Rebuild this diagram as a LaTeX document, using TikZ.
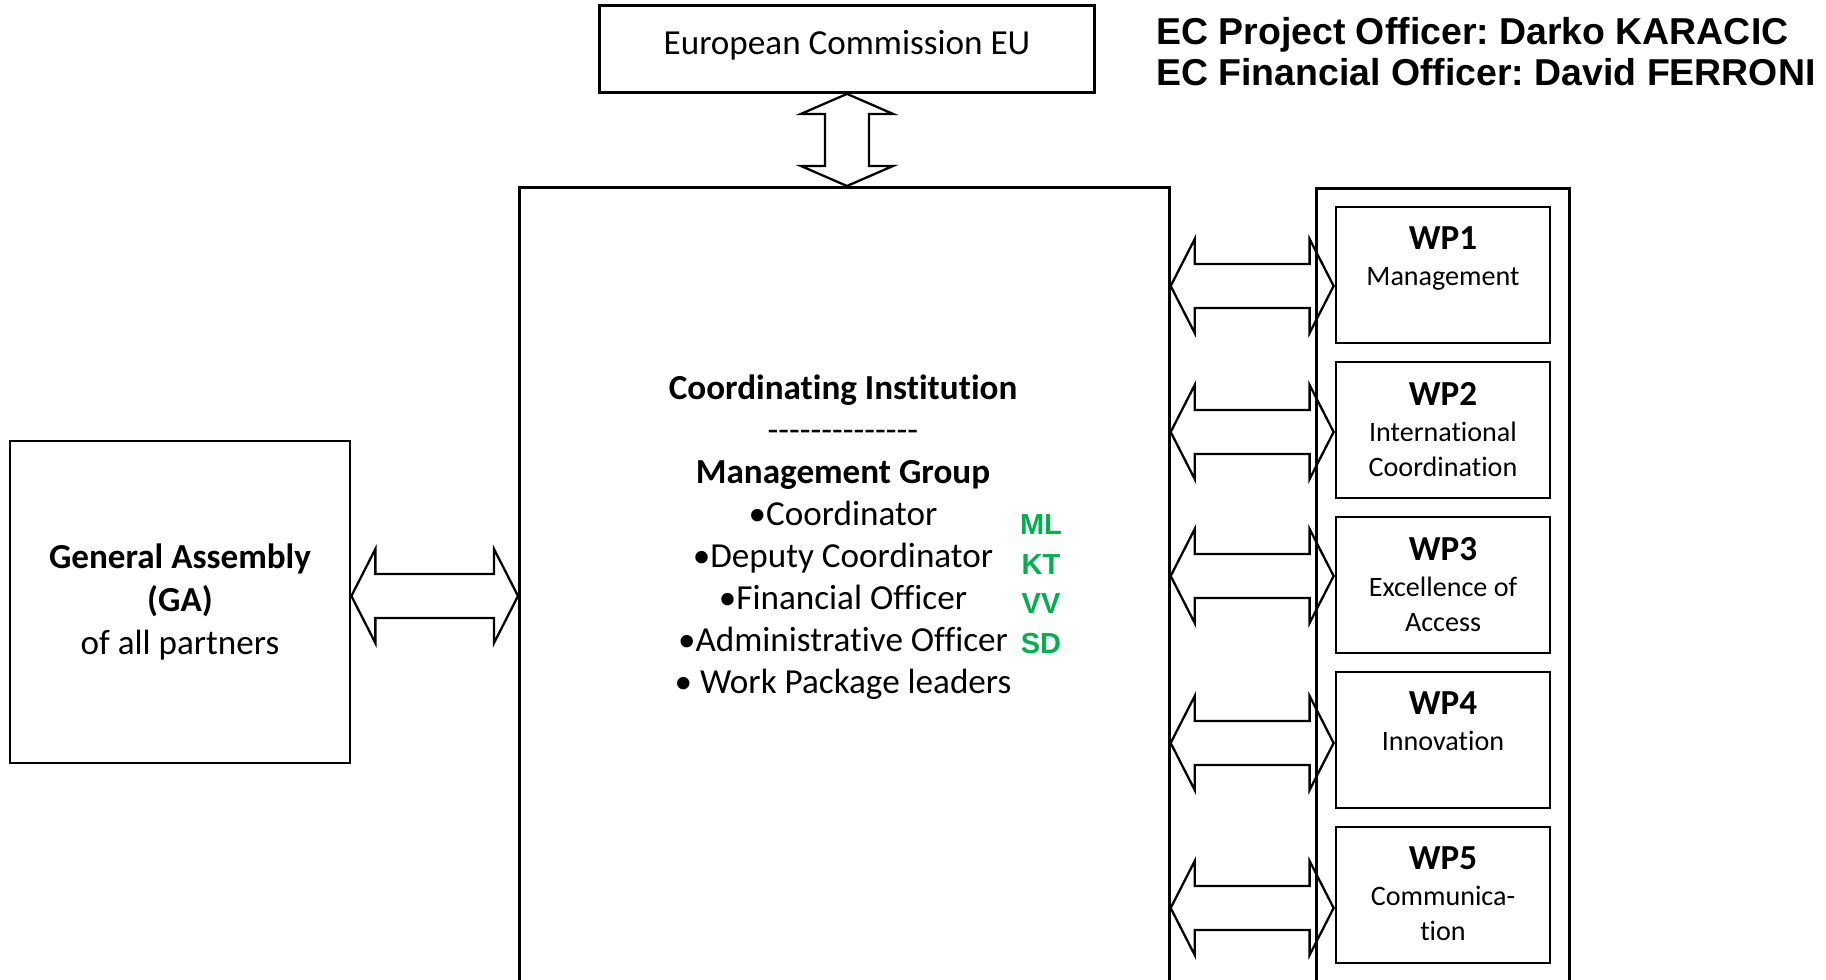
\documentclass[tikz,border=0pt]{standalone}
\usepackage{fontspec}
\setmainfont{Carlito}[Ligatures={TeX,NoCommon}]
\newfontfamily\arialfont{Liberation Sans}
\usetikzlibrary{calc}
\definecolor{initgreen}{RGB}{0,176,80}
\frenchspacing
% hollow double arrows, tips at #1 and #2
\newcommand\harrow[2]{\draw[fat] (#1) -- ++(24,-47) -- ++(0,25) -- ($(#2)+(-24,-22)$) -- ++(0,-25) -- (#2) -- ++(-24,47) -- ++(0,-25) -- ($(#1)+(24,22)$) -- ++(0,25) -- cycle;}
\newcommand\varrow[2]{\draw[fat] (#1) -- ++(46,20) -- ++(-24,0) -- ($(#2)+(22,-20)$) -- ++(24,0) -- (#2) -- ++(-46,-20) -- ++(24,0) -- ($(#1)+(-22,20)$) -- ++(-24,0) -- cycle;}
\newcommand\dashrow{\foreach \k in {1,...,14}{-\kern0pt}}
\begin{document}
\begin{tikzpicture}[x=0.02cm,y=-0.02cm,
    box/.style={draw,line width=1.6pt,inner sep=0pt},
    fat/.style={line width=1.3pt,line join=miter},
    wptext/.style={align=center,inner sep=0pt,font=\fontsize{16}{20}\selectfont}]
\useasboundingbox (0,0) rectangle (1826,980);
\clip (0,0) rectangle (1826,980);
\node[box,minimum width=9.9cm,minimum height=1.74cm,text depth=0.25cm,font=\fontsize{20}{24}\selectfont] (ec) at (847,49) {European Commission EU};
\node[anchor=north west,align=left,inner sep=0pt,font=\arialfont\bfseries\fontsize{21.3}{23.3}\selectfont] (eco) at (1156,17) {EC Project Officer: Darko KARACIC\\EC Financial Officer: David FERRONI};
\node[box,anchor=north west,minimum width=13cm,minimum height=20cm] (ci) at (518,186) {};
\node[box,anchor=north west,minimum width=5.06cm,minimum height=20cm] (wps) at (1315,187) {};
\node[box,minimum width=6.8cm,minimum height=6.44cm,align=center,font=\fontsize{20}{24.4}\selectfont] (ga) at (180,602) {\textbf{General Assembly}\\\textbf{(GA)}\\of all partners};
\node[align=center,font=\fontsize{20}{23.9}\selectfont] (mg) at (843,537) {\textbf{Coordinating Institution}\\\dashrow\\\textbf{Management Group}\\\textbullet Coordinator\\\textbullet Deputy Coordinator\\\textbullet Financial Officer\\\textbullet Administrative Officer\\\textbullet{} Work Package leaders};
\node[align=center,text=initgreen,font=\arialfont\bfseries\fontsize{16.5}{22.5}\selectfont] (ini) at (1041,584) {ML\\KT\\VV\\SD};
\foreach \i/\t in {1/Management,2/{International\\Coordination},3/{Excellence of\\Access},4/Innovation,5/{Communica-\\tion}}{
  \node[box,minimum width=4.28cm,minimum height=2.72cm] (wp\i) at (1443,{275+155*(\i-1)}) {};
  \node[wptext,anchor=north] (wp\i t) at ([yshift=-0.42cm]wp\i.north) {{\fontsize{20}{20}\selectfont\bfseries WP\i}\\[0.5pt]\t};
}
\foreach \i/\d in {1/11,2/2,3/-9,4/3,5/13}{
  \path (ci.east |- wp\i.west) ++(0,\d) coordinate (a\i);
  \path (wp\i.west) ++(-1,\d) coordinate (b\i);
  \harrow{a\i}{b\i}
}
\path (ga.east) ++(0,-6) coordinate (g1);
\path (ci.west |- ga.east) ++(0,-6) coordinate (g2);
\harrow{g1}{g2}
\coordinate (v1) at (ec.south);
\coordinate (v2) at (ec.south |- ci.north);
\varrow{v1}{v2}
\end{tikzpicture}
\end{document}
